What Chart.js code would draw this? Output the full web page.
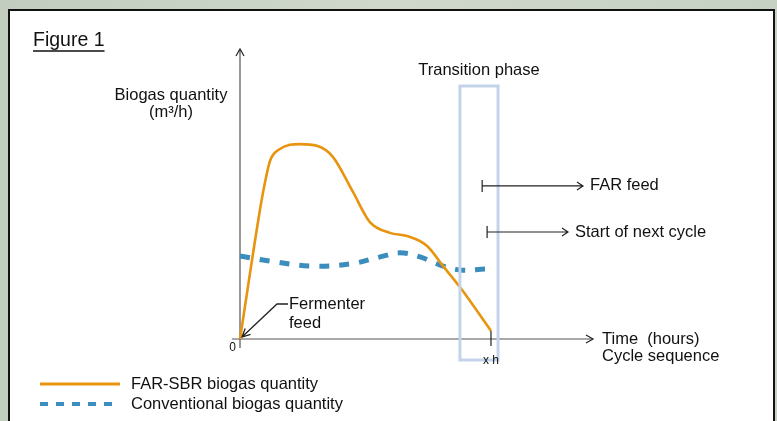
<!DOCTYPE html>
<html><head><meta charset="utf-8">
<script src="https://cdn.jsdelivr.net/npm/chart.js@4.4.1/dist/chart.umd.min.js"></script>
<style>html,body{margin:0;padding:0;background:#c8d3c5;overflow:hidden}canvas{display:block}</style>
</head><body>
<canvas id="c" width="777" height="421"></canvas>
<script>
// ---- data (arbitrary units) ----
const farSbrX = [0, 0.57, 0.71, 0.85, 1.13, 1.70, 2.18, 2.63, 3.20, 3.68, 4.25, 4.73, 5.30, 5.75, 6.23, 7.11];
const farSbrY = [0, 4.48, 5.41, 6.14, 6.55, 6.72, 6.66, 6.28, 5.07, 4.03, 3.66, 3.55, 3.21, 2.52, 1.79, 0.28];
const convX = [0, 0.85, 1.98, 3.12, 3.97, 4.53, 5.10, 5.67, 6.23, 6.94];
const convY = [2.86, 2.69, 2.52, 2.59, 2.83, 2.97, 2.83, 2.55, 2.38, 2.41];
const seriesNames = ['FAR-SBR biogas quantity', 'Conventional biogas quantity'];
const tickLabels = ['0', 'x h'];
const tickValues = [0, 7.11];
const transitionPhase = [6.23, 7.31];           // x range of the transition box
const markers = [                                  // [x, y, label]
  [6.86, 5.28, 'FAR feed'],
  [7.00, 3.69, 'Start of next cycle']
];

const toPts = (xs, ys) => xs.map((x, i) => ({x, y: ys[i]}));
const FONT = '"Liberation Sans", Arial, sans-serif';

const decor = {
  id: 'decor',
  beforeDraw(chart) {
    const ctx = chart.ctx;
    ctx.save();
    ctx.fillStyle = '#c8d3c5';
    ctx.fillRect(0, 0, chart.width, chart.height);
    const g = ctx.createLinearGradient(0, 0, chart.width, 0);
    g.addColorStop(0, '#c2cdbf'); g.addColorStop(0.5, '#cfd8cb'); g.addColorStop(1, '#c6d0c3');
    ctx.fillStyle = g; ctx.fillRect(0, 0, chart.width, chart.height);
    ctx.fillStyle = '#ffffff';
    ctx.fillRect(9, 10, 765, 420);
    ctx.strokeStyle = '#111'; ctx.lineWidth = 2;
    ctx.strokeRect(9, 10, 765, 440);
    ctx.restore();
  },
  beforeDatasetsDraw(chart) {
    const ctx = chart.ctx, xs = chart.scales.x, ys = chart.scales.y;
    const x0 = xs.getPixelForValue(0), y0 = ys.getPixelForValue(0);
    const xEnd = xs.getPixelForValue(10), yTop = ys.getPixelForValue(10);
    ctx.save();
    ctx.strokeStyle = '#555'; ctx.lineWidth = 1.2;
    ctx.beginPath();
    ctx.moveTo(x0, y0 + 9); ctx.lineTo(x0, yTop);
    ctx.moveTo(x0 - 8, y0); ctx.lineTo(xEnd, y0);
    ctx.stroke();
    ctx.strokeStyle = '#222'; ctx.lineWidth = 1.2;
    ctx.beginPath();
    ctx.moveTo(x0 - 4, yTop + 7); ctx.lineTo(x0, yTop); ctx.lineTo(x0 + 4, yTop + 7);
    ctx.moveTo(xEnd - 7, y0 - 4); ctx.lineTo(xEnd, y0); ctx.lineTo(xEnd - 7, y0 + 4);
    ctx.stroke();
    ctx.restore();
  },
  afterDatasetsDraw(chart) {
    const ctx = chart.ctx, xs = chart.scales.x, ys = chart.scales.y;
    const x0 = xs.getPixelForValue(0), y0 = ys.getPixelForValue(0);
    const xEnd = xs.getPixelForValue(10);
    ctx.save();
    // transition box
    const bx1 = xs.getPixelForValue(transitionPhase[0]), bx2 = xs.getPixelForValue(transitionPhase[1]);
    ctx.strokeStyle = '#c3d4ea'; ctx.lineWidth = 3;
    ctx.strokeRect(bx1, 86, bx2 - bx1, 274);
    ctx.fillStyle = '#111'; ctx.textBaseline = 'middle';
    ctx.font = '16.5px ' + FONT;
    ctx.textAlign = 'center';
    ctx.fillText('Transition phase', (bx1 + bx2) / 2, 70);
    // x h tick
    const xt = xs.getPixelForValue(tickValues[1]);
    ctx.strokeStyle = '#222'; ctx.lineWidth = 1.2;
    ctx.beginPath(); ctx.moveTo(xt, y0 - 8); ctx.lineTo(xt, y0 + 7); ctx.stroke();
    ctx.font = '12px ' + FONT;
    ctx.fillText(tickLabels[1], xt, 361);
    ctx.textAlign = 'right';
    ctx.fillText(tickLabels[0], x0 - 4, 348);
    // markers
    const ends = [583, 568];
    markers.forEach((m, i) => {
      const px = xs.getPixelForValue(m[0]), py = ys.getPixelForValue(m[1]);
      ctx.strokeStyle = '#222'; ctx.lineWidth = 1.2;
      ctx.beginPath();
      ctx.moveTo(px, py - 6); ctx.lineTo(px, py + 6);
      ctx.moveTo(px, py); ctx.lineTo(ends[i], py);
      ctx.moveTo(ends[i] - 6, py - 4); ctx.lineTo(ends[i], py); ctx.lineTo(ends[i] - 6, py + 4);
      ctx.stroke();
      ctx.textAlign = 'left'; ctx.font = '16.5px ' + FONT;
      ctx.fillText(m[2], ends[i] + 7, py);
    });
    // fermenter feed leader with arrow head
    const tipX = x0 + 2, tipY = y0 - 2, fromX = 277, fromY = 304;
    const ang = Math.atan2(fromY - tipY, fromX - tipX);
    ctx.strokeStyle = '#222'; ctx.lineWidth = 1.3;
    ctx.beginPath();
    ctx.moveTo(288, 304); ctx.lineTo(fromX, fromY); ctx.lineTo(tipX, tipY);
    ctx.moveTo(tipX + 9 * Math.cos(ang - 0.45), tipY + 9 * Math.sin(ang - 0.45));
    ctx.lineTo(tipX, tipY);
    ctx.lineTo(tipX + 9 * Math.cos(ang + 0.45), tipY + 9 * Math.sin(ang + 0.45));
    ctx.stroke();
    ctx.fillText('Fermenter', 289, 304);
    ctx.fillText('feed', 289, 323);
    // axis titles
    ctx.fillText('Time  (hours)', xEnd + 9, y0);
    ctx.fillText('Cycle sequence', xEnd + 9, y0 + 17);
    ctx.textAlign = 'center';
    ctx.fillText('Biogas quantity', 171, 95);
    ctx.fillText('(m³/h)', 171, 112);
    // figure title
    ctx.textAlign = 'left'; ctx.font = '19.5px ' + FONT;
    ctx.fillText('Figure 1', 33, 41);
    const tw = ctx.measureText('Figure 1').width;
    ctx.lineWidth = 1.3; ctx.strokeStyle = '#111';
    ctx.beginPath(); ctx.moveTo(33, 51); ctx.lineTo(33 + tw, 51); ctx.stroke();
    // legend
    const ds = chart.data.datasets;
    [384, 404].forEach((ly, i) => {
      ctx.strokeStyle = ds[i].borderColor;
      ctx.lineWidth = i === 0 ? 3 : 4;
      ctx.setLineDash(i === 0 ? [] : [8, 8]);
      ctx.beginPath(); ctx.moveTo(40, ly); ctx.lineTo(120, ly); ctx.stroke();
      ctx.setLineDash([]);
      ctx.fillStyle = '#111'; ctx.font = '16.5px ' + FONT; ctx.textAlign = 'left';
      ctx.fillText(ds[i].label, 131, ly);
    });
    ctx.restore();
  }
};

new Chart(document.getElementById('c'), {
  type: 'line',
  data: {
    datasets: [
      { label: seriesNames[0], data: toPts(farSbrX, farSbrY), borderColor: '#e8940e', borderWidth: 2.6,
        pointRadius: 0, cubicInterpolationMode: 'monotone', fill: false, clip: false },
      { label: seriesNames[1], data: toPts(convX, convY), borderColor: '#3b8dbd', borderWidth: 5,
        borderDash: [10, 10], borderCapStyle: 'butt', pointRadius: 0, tension: 0.4, fill: false, clip: false }
    ]
  },
  options: {
    responsive: false, animation: false, devicePixelRatio: 1,
    layout: { padding: { left: 240, right: 184, top: 49, bottom: 82 } },
    scales: {
      x: { type: 'linear', min: 0, max: 10, display: false },
      y: { type: 'linear', min: 0, max: 10, display: false }
    },
    plugins: { legend: { display: false }, tooltip: { enabled: false } }
  },
  plugins: [decor]
});
</script>
</body></html>
